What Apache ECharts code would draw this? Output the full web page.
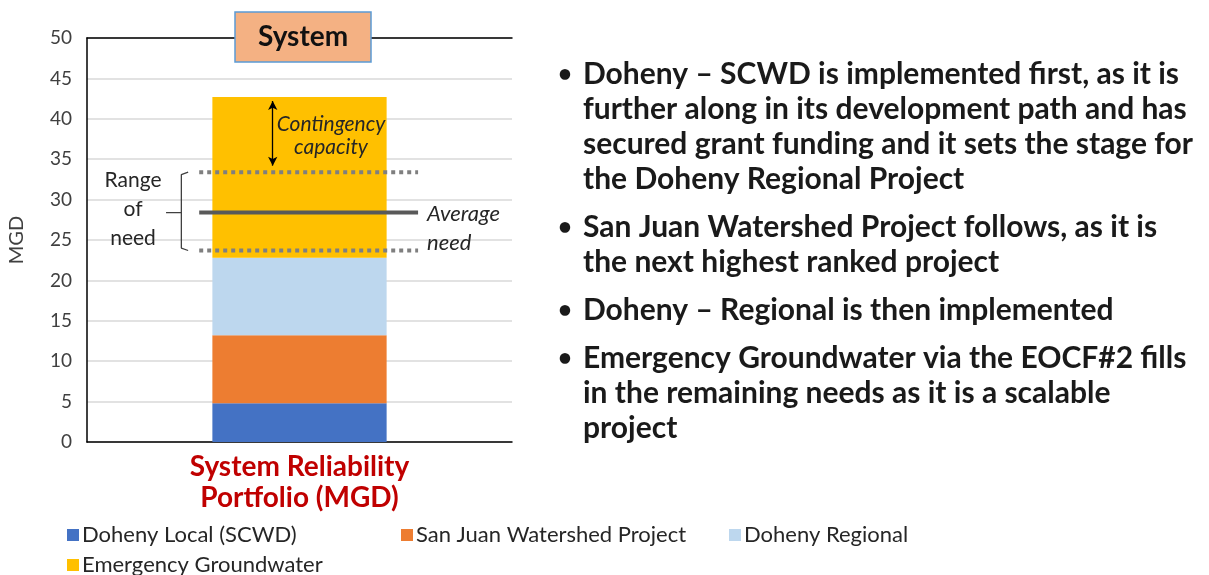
<!DOCTYPE html>
<html>
<head>
<meta charset="utf-8">
<script src="https://cdn.jsdelivr.net/npm/echarts@6/dist/echarts.min.js"></script>
<style>
  html, body { margin: 0; padding: 0; background: #fff; }
  #chart { width: 1209px; height: 575px; }
</style>
</head>
<body>
<div id="chart"></div>
<script>
// chart values
const categories = ['System Reliability\nPortfolio (MGD)']
const dohenyLocal = [4.8]
const sanJuan = [8.4]
const dohenyRegional = [9.6]
const emergencyGw = [19.9]
const yTicks = [0, 50, 5]          // min, max, interval
const needRange = [23.7, 33.4]     // low / high of range of need
const averageNeed = 28.4
const contingency = [34.2, 42.2]   // arrow from / to

const bullets = [
  ['Doheny \u2013 SCWD is implemented first, as it is',
    'further along in its development path and has',
    'secured grant funding and it sets the stage for',
    'the Doheny Regional Project'],
  ['San Juan Watershed Project follows, as it is',
    'the next highest ranked project'],
  ['Doheny \u2013 Regional is then implemented'],
  ['Emergency Groundwater via the EOCF#2 fills',
    'in the remaining needs as it is a scalable',
    'project']
]

const FONT = 'Lato, "Open Sans", sans-serif'
const lineSpan = [0.264, 0.779]   // horizontal extent of need lines (fraction of plot)
const bracketX = [0.186, 0.222, 0.238]
const arrowX = 0.437

const chart = echarts.init(document.getElementById('chart'))

// bullet text on the right
const bulletGraphics = []
let y = 74
bullets.forEach((para, pi) => {
  if (pi > 0) y += 48
  bulletGraphics.push({
    type: 'text', x: 558, y: y, z: 100,
    style: { text: '\u2022', font: 'bold 24px ' + FONT, fill: '#1a1a1a', verticalAlign: 'middle' }
  })
  para.forEach((line, li) => {
    if (li > 0) y += 35
    bulletGraphics.push({
      type: 'text', x: 583, y: y, z: 100,
      style: { text: line, font: 'bold 30px ' + FONT, fill: '#1a1a1a', verticalAlign: 'middle' }
    })
  })
})

const legendItem = (name, left, top) => ({
  data: [name], left: left, top: top,
  itemWidth: 12, itemHeight: 12, icon: 'rect', itemGap: 0,
  textStyle: { fontFamily: FONT, fontSize: 22, color: '#262626', padding: [0, 0, 0, -2] }
})

const seg = (name, data, color) => ({
  name: name, type: 'bar', stack: 'total', data: data, barWidth: '41%',
  itemStyle: { color: color }, emphasis: { disabled: true }
})

const hLine = (val, style) => ({
  type: 'line', xAxisIndex: 1, symbol: 'none', silent: true,
  data: [[lineSpan[0], val], [lineSpan[1], val]],
  lineStyle: style, z: 5
})

const note = (text, x, yPos, font, lh, align) => ({
  type: 'text', x: x, y: yPos, z: 100,
  style: {
    text: text, font: font + ' ' + FONT, lineHeight: lh,
    fill: '#262626', align: align, verticalAlign: 'middle'
  }
})

chart.setOption({
  animation: false,
  title: {
    text: 'System', left: 235, top: 12,
    padding: [11, 23, 11, 23],
    backgroundColor: '#F4B183', borderColor: '#5B9BD5', borderWidth: 1.5,
    textStyle: { fontFamily: FONT, fontSize: 28, fontWeight: 'bold', color: '#111' }
  },
  legend: [
    legendItem('Doheny Local (SCWD)', 62, 519),
    legendItem('San Juan Watershed Project', 396, 519),
    legendItem('Doheny Regional', 724, 519),
    legendItem('Emergency Groundwater', 62, 549)
  ],
  grid: { left: 87, right: 697, top: 38, bottom: 133 },
  xAxis: [{
    type: 'category', data: categories,
    axisLine: { lineStyle: { color: '#000', width: 1.5 } },
    axisTick: { show: false },
    axisLabel: {
      margin: 9, fontFamily: FONT, fontSize: 28, fontWeight: 'bold',
      color: '#C00000', lineHeight: 31
    }
  }, {
    type: 'value', min: 0, max: 1, position: 'top',
    axisLine: { show: true, onZero: false, lineStyle: { color: '#000', width: 1.5 } },
    axisTick: { show: false }, axisLabel: { show: false }, splitLine: { show: false }
  }],
  yAxis: {
    type: 'value', min: yTicks[0], max: yTicks[1], interval: yTicks[2],
    name: 'MGD', nameLocation: 'middle', nameGap: 60, nameRotate: 90,
    nameTextStyle: { fontFamily: FONT, fontSize: 20, color: '#404040' },
    axisLine: { show: true, lineStyle: { color: '#000', width: 1.5 } },
    axisTick: { show: false },
    axisLabel: { margin: 15, fontFamily: FONT, fontSize: 19, color: '#404040' },
    splitLine: { lineStyle: { color: '#D9D9D9', width: 1.5 } }
  },
  series: [
    seg('Doheny Local (SCWD)', dohenyLocal, '#4472C4'),
    seg('San Juan Watershed Project', sanJuan, '#ED7D31'),
    seg('Doheny Regional', dohenyRegional, '#BDD7EE'),
    seg('Emergency Groundwater', emergencyGw, '#FFC000'),
    hLine(needRange[1], { color: '#7F7F7F', width: 4, type: [4, 4] }),
    hLine(needRange[0], { color: '#7F7F7F', width: 4, type: [4, 4] }),
    hLine(averageNeed, { color: '#595959', width: 4 }),
    {
      // range-of-need bracket
      type: 'line', xAxisIndex: 1, symbol: 'none', silent: true, z: 5,
      data: [[bracketX[2], needRange[1]], [bracketX[1], needRange[1] - 0.3],
        [bracketX[1], averageNeed], [bracketX[0], averageNeed], [bracketX[1], averageNeed],
        [bracketX[1], needRange[0] + 0.3], [bracketX[2], needRange[0]]],
      lineStyle: { color: '#404040', width: 1.3 }
    },
    {
      // contingency arrow
      type: 'line', xAxisIndex: 1, data: [], silent: true,
      markLine: {
        silent: true, symbol: ['arrow', 'arrow'], symbolSize: [7, 9],
        label: { show: false },
        lineStyle: { color: '#000', width: 1.3, type: 'solid' },
        data: [[{ coord: [arrowX, contingency[1]] }, { coord: [arrowX, contingency[0]] }]]
      }
    }
  ],
  graphic: [
    note('Contingency\ncapacity', 331, 136, 'italic 21px', 23, 'center'),
    note('Range\nof\nneed', 133, 209, '21px', 29, 'center'),
    note('Average\nneed', 427, 228, 'italic 22px', 29, 'left')
  ].concat(bulletGraphics)
})
</script>
</body>
</html>
